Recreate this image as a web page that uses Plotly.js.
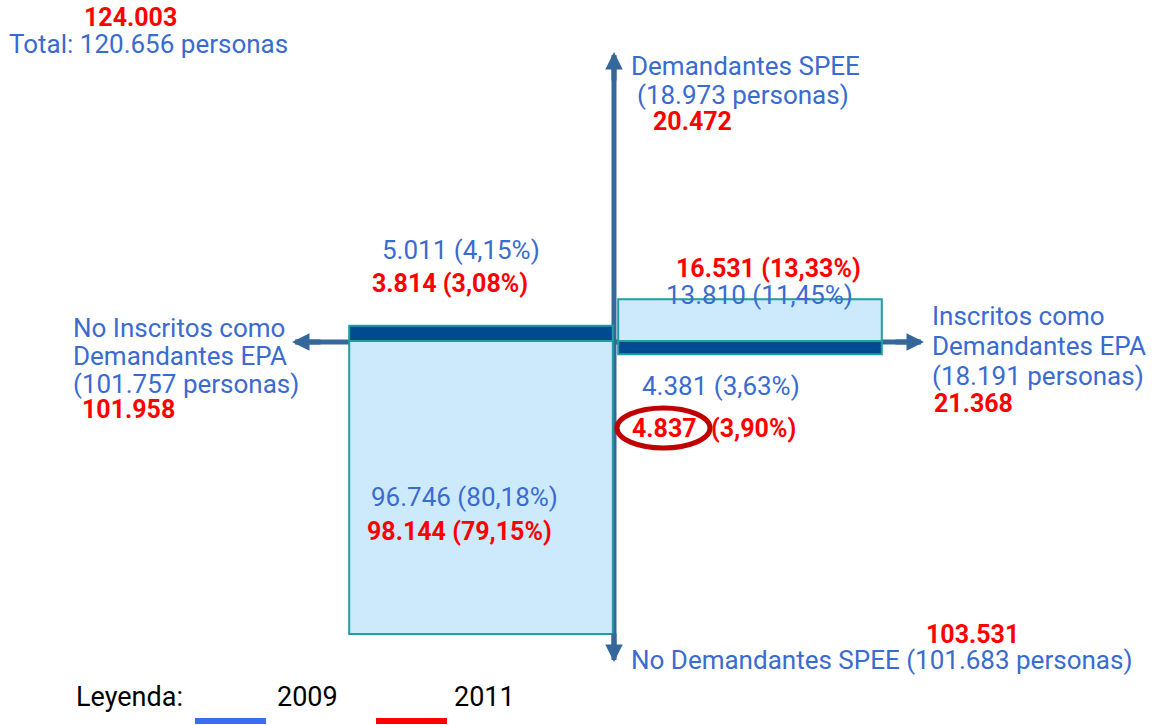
<!DOCTYPE html>
<html>
<head>
<meta charset="utf-8">
<script src="https://cdn.plot.ly/plotly-3.0.1.min.js"></script>
<style>html,body{margin:0;padding:0;background:#fff;}#chart{width:1160px;height:725px;}</style>
</head>
<body>
<div id="chart"></div>
<script>
// ---- data ----
const quadrants = ['Demandantes SPEE / No inscritos EPA', 'Demandantes SPEE / Inscritos EPA',
                   'No demandantes SPEE / Inscritos EPA', 'No demandantes SPEE / No inscritos EPA'];
const val2009 = [5011, 13810, 4381, 96746];
const pct2009 = [4.15, 11.45, 3.63, 80.18];
const val2011 = [3814, 16531, 4837, 98144];
const pct2011 = [3.08, 13.33, 3.90, 79.15];
const total2009 = 120656, total2011 = 124003;
const speeDem = [18973, 20472];      // Demandantes SPEE 2009, 2011
const speeNoDem = [101683, 103531];  // No demandantes SPEE
const epaIns = [18191, 21368];       // Inscritos EPA
const epaNoIns = [101757, 101958];   // No inscritos EPA
const columns = ['No inscritos EPA', 'Inscritos EPA'];
const legendYears = ['2009', '2011'];

// ---- helpers ----
function fmt(n){ return String(n).replace(/\B(?=(\d{3})+(?!\d))/g, '.'); }
function pct(p){ return p.toFixed(2).replace('.', ','); }
const W = 1160, H = 725;
const BLUE = '#3a6bd1', RED = '#ff0000', ARROW = '#35679b';
const FONT = 'Roboto, "Liberation Sans", Arial, sans-serif';
const annotations = [];
function txt(t, x, y, opt){
  opt = opt || {};
  annotations.push({text: t, xref: 'paper', yref: 'paper', x: (x - 3) / W, y: 1 - y / H,
    xanchor: 'left', yanchor: 'middle', showarrow: false,
    font: {family: FONT, size: opt.size || 26, color: opt.color || BLUE}});
}
function red(t, x, y){ txt('<b>' + t + '</b>', x, y, {color: RED, size: 25}); }

// ---- bars (y scale: baseline at 341px) ----
const darkTrace = {type: 'bar', x: columns, y: [val2009[0], -val2009[2]], base: 0,
  width: 0.98, marker: {color: '#004a92', line: {color: '#1f9f9f', width: 2}}, hoverinfo: 'skip'};
const lightTrace = {type: 'bar', x: columns, y: [-val2009[3], val2009[1]], base: 0,
  width: 0.98, marker: {color: '#cdeafd', line: {color: '#1f9f9f', width: 2}}, hoverinfo: 'skip'};

// ---- texts ----
red(fmt(total2011), 85, 18);
txt('Total: ' + fmt(total2009) + ' personas', 10, 44);
txt('Demandantes SPEE', 632, 66);
txt('(' + fmt(speeDem[0]) + ' personas)', 638, 95);
red(fmt(speeDem[1]), 654, 122);
txt(fmt(val2009[0]) + ' (' + pct(pct2009[0]) + '%)', 383, 250);
red(fmt(val2011[0]) + ' (' + pct(pct2011[0]) + '%)', 373, 283);
red(fmt(val2011[1]) + ' (' + pct(pct2011[1]) + '%)', 677, 268);
txt(fmt(val2009[1]) + ' (' + pct(pct2009[1]) + '%)', 667, 295);
txt('No Inscritos como', 74, 328);
txt('Demandantes EPA', 74, 356);
txt('(' + fmt(epaNoIns[0]) + ' personas)', 74, 384);
red(fmt(epaNoIns[1]), 83, 409);
txt('Inscritos como', 933, 316);
txt('Demandantes EPA', 933, 346);
txt('(' + fmt(epaIns[0]) + ' personas)', 933, 376);
red(fmt(epaIns[1]), 935, 404);
txt(fmt(val2009[2]) + ' (' + pct(pct2009[2]) + '%)', 643, 386);
red(fmt(val2011[2]), 633, 428);
red('(' + pct(pct2011[2]) + '%)', 712, 428);
txt(fmt(val2009[3]) + ' (' + pct(pct2009[3]) + '%)', 372, 497);
red(fmt(val2011[3]) + ' (' + pct(pct2011[3]) + '%)', 368, 531);
red(fmt(speeNoDem[1]), 927, 634);
txt('No Demandantes SPEE (' + fmt(speeNoDem[0]) + ' personas)', 632, 660);
txt('Leyenda:', 77, 697, {color: '#000', size: 27});
txt(legendYears[0], 278, 697, {color: '#000', size: 27});
txt(legendYears[1], 455, 697, {color: '#000', size: 27});

// ---- arrowheads (annotations) ----
function head(x, y, ax, ay){
  annotations.push({xref: 'paper', yref: 'paper', x: x / W, y: 1 - y / H, ax: ax, ay: ay,
    text: '', showarrow: true, arrowhead: 2, arrowsize: 0.7, arrowwidth: 5, arrowcolor: ARROW});
}
head(614, 52, 0, 30);
head(614, 662, 0, -30);
head(292, 342, 30, 0);
head(924, 342, -30, 0);

// ---- shapes ----
const P = (x) => x / W, Q = (y) => 1 - y / H;
const shapes = [
  {type: 'line', xref: 'paper', yref: 'paper', x0: P(614), x1: P(614), y0: Q(55), y1: Q(660),
   line: {color: ARROW, width: 5}, layer: 'below'},
  {type: 'line', xref: 'paper', yref: 'paper', x0: P(295), x1: P(921), y0: Q(342), y1: Q(342),
   line: {color: ARROW, width: 5}, layer: 'below'},
  {type: 'circle', xref: 'paper', yref: 'paper', x0: P(617), x1: P(710), y0: Q(408), y1: Q(448),
   line: {color: '#c00000', width: 5}},
  {type: 'line', xref: 'paper', yref: 'paper', x0: P(195), x1: P(266), y0: Q(721), y1: Q(721),
   line: {color: '#3b6df3', width: 6}},
  {type: 'line', xref: 'paper', yref: 'paper', x0: P(376), x1: P(447), y0: Q(721), y1: Q(721),
   line: {color: '#ff0000', width: 6}}
];

const pxPerPerson = 293 / val2009[3];
const layout = {
  width: W, height: H, margin: {l: 0, r: 0, t: 0, b: 0},
  paper_bgcolor: '#fff', plot_bgcolor: '#fff', showlegend: false, barmode: 'overlay',
  xaxis: {type: 'category', range: [-481 / 269, 1 + 410 / 269], visible: false, fixedrange: true},
  yaxis: {range: [-(H - 341) / pxPerPerson, 341 / pxPerPerson], visible: false, fixedrange: true},
  annotations: annotations, shapes: shapes
};
Plotly.newPlot('chart', [lightTrace, darkTrace], layout, {staticPlot: true});
</script>
</body>
</html>
